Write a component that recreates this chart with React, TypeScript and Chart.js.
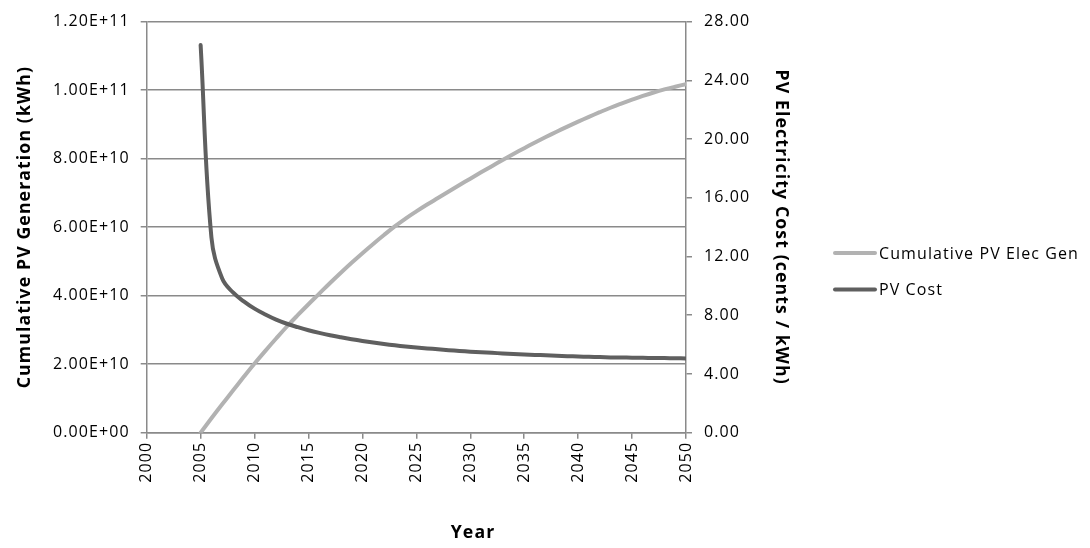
import React, { useEffect, useRef } from "react";
import { Chart, registerables } from "chart.js";

Chart.register(...registerables);

// ---- Data ----
const years = [
  2005, 2006, 2007, 2008, 2009, 2010, 2011, 2012, 2013, 2014,
  2015, 2016, 2017, 2018, 2019, 2020, 2021, 2022, 2023, 2024,
  2025, 2026, 2027, 2028, 2029, 2030, 2031, 2032, 2033, 2034,
  2035, 2036, 2037, 2038, 2039, 2040, 2041, 2042, 2043, 2044,
  2045, 2046, 2047, 2048, 2049, 2050,
];

// Cumulative PV electricity generation (kWh)
const cumulativeGen = [
  0, 4.2e9, 8.3e9, 1.23e10, 1.63e10, 2.02e10, 2.39e10, 2.75e10, 3.1e10, 3.43e10,
  3.75e10, 4.06e10, 4.37e10, 4.67e10, 4.96e10, 5.24e10, 5.51e10, 5.77e10, 6.02e10, 6.25e10,
  6.46e10, 6.66e10, 6.85e10, 7.04e10, 7.23e10, 7.415e10, 7.6e10, 7.78e10, 7.96e10, 8.135e10,
  8.305e10, 8.47e10, 8.63e10, 8.785e10, 8.935e10, 9.08e10, 9.22e10, 9.355e10, 9.485e10, 9.605e10,
  9.72e10, 9.83e10, 9.93e10, 1.002e11, 1.01e11, 1.0175e11,
];

// PV electricity cost (cents / kWh)
const pvCost = [
  26.4, 13.3, 10.5, 9.55, 8.95, 8.45, 8.05, 7.7, 7.42, 7.19,
  6.98, 6.8, 6.64, 6.5, 6.37, 6.25, 6.14, 6.04, 5.95, 5.87,
  5.8, 5.74, 5.68, 5.62, 5.57, 5.52, 5.48, 5.44, 5.4, 5.36,
  5.33, 5.3, 5.27, 5.24, 5.21, 5.19, 5.17, 5.15, 5.13, 5.12,
  5.11, 5.1, 5.09, 5.08, 5.07, 5.06,
];

const seriesLabels = ["Cumulative PV Elec Gen", "PV Cost"];
const leftTitle = "Cumulative PV Generation (kWh)";
const rightTitle = "PV Electricity Cost (cents / kWh)";
const xTitle = "Year";

// ---- Styles ----
const FONT = '"Open Sans", "Liberation Sans", sans-serif';
const GRID = "#8a8a8a";
const LIGHT = "#b2b2b2";
const DARK = "#5f5f5f";
const SPACING = "1.1px";

function fmtExp(v: number): string {
  const [m, e] = Number(v).toExponential(2).split("e");
  const sign = e[0] === "-" ? "-" : "+";
  const digits = e.replace(/^[+-]/, "").padStart(2, "0");
  return `${m}E${sign}${digits}`;
}

const spacingPlugin = {
  id: "letterSpacing",
  beforeUpdate(chart: any) {
    chart.ctx.letterSpacing = SPACING;
  },
  beforeDraw(chart: any) {
    chart.ctx.letterSpacing = SPACING;
  },
};

const legendPlugin = {
  id: "customLegend",
  afterDraw(chart: any) {
    const ctx = chart.ctx as CanvasRenderingContext2D;
    ctx.save();
    (ctx as any).letterSpacing = SPACING;
    ctx.textBaseline = "middle";
    ctx.textAlign = "left";
    ctx.fillStyle = "#000";
    ctx.font = `16px ${FONT}`;
    chart.data.datasets.forEach((ds: any, i: number) => {
      const y = 253 + i * 36.5;
      ctx.strokeStyle = ds.borderColor;
      ctx.lineWidth = 4;
      ctx.lineCap = "round";
      ctx.beginPath();
      ctx.moveTo(835, y);
      ctx.lineTo(875, y);
      ctx.stroke();
      ctx.fillText(ds.label, 879, y + 1);
    });
    ctx.font = `bold 17.7px ${FONT}`;
    ctx.textAlign = "center";
    ctx.fillText(xTitle, 473, 533);
    ctx.restore();
  },
};

export default function App() {
  const canvasRef = useRef<HTMLCanvasElement | null>(null);

  useEffect(() => {
    if (!canvasRef.current) return;
    const chart = new Chart(canvasRef.current, {
      type: "line",
      data: {
        datasets: [
          {
            label: seriesLabels[0],
            data: years.map((x, i) => ({ x, y: cumulativeGen[i] })),
            yAxisID: "yLeft",
            borderColor: LIGHT,
            backgroundColor: LIGHT,
            borderWidth: 4,
            pointRadius: 0,
            tension: 0.4,
            borderCapStyle: "round",
            borderJoinStyle: "round",
            fill: false,
            order: 2,
          },
          {
            label: seriesLabels[1],
            data: years.map((x, i) => ({ x, y: pvCost[i] })),
            yAxisID: "yRight",
            borderColor: DARK,
            backgroundColor: DARK,
            borderWidth: 4,
            pointRadius: 0,
            tension: 0.4,
            borderCapStyle: "round",
            borderJoinStyle: "round",
            fill: false,
            order: 1,
          },
        ],
      },
      options: {
        animation: false,
        responsive: false,
        devicePixelRatio: 1,
        layout: { padding: { left: 0, right: 294.8, top: 14.7, bottom: 0 } },
        font: { family: FONT, size: 16 },
        plugins: {
          legend: { display: false },
          tooltip: { enabled: false },
        },
        scales: {
          x: {
            type: "linear",
            min: 2000,
            max: 2050,
            ticks: {
              stepSize: 5,
              autoSkip: false,
              maxRotation: 90,
              minRotation: 90,
              padding: 3,
              color: "#000",
              font: { family: FONT, size: 16 },
              callback: (v: any) => String(v),
            },
            grid: { drawOnChartArea: false, drawTicks: true, tickLength: 6, color: GRID, lineWidth: 1.5 },
            border: { color: GRID, width: 1.5 },
            afterFit: (s: any) => {
              s.height = 115.3;
            },
          },
          yLeft: {
            type: "linear",
            position: "left",
            min: 0,
            max: 1.2e11,
            ticks: {
              stepSize: 2e10,
              padding: 11,
              color: "#000",
              font: { family: FONT, size: 16 },
              callback: (v: any) => fmtExp(v),
            },
            grid: { color: GRID, lineWidth: 1.5, tickLength: 6 },
            border: { color: GRID, width: 1.5 },
            title: {
              display: true,
              text: leftTitle,
              color: "#000",
              font: { family: FONT, size: 17.7, weight: "bold" },
              padding: { top: 14.5, bottom: 0 },
            },
            afterFit: (s: any) => {
              s.width = 146.7;
            },
          },
          yRight: {
            type: "linear",
            position: "right",
            min: 0,
            max: 28,
            ticks: {
              stepSize: 4,
              padding: 12,
              color: "#000",
              font: { family: FONT, size: 16 },
              callback: (v: any) => Number(v).toFixed(2),
            },
            grid: { drawOnChartArea: false, color: GRID, lineWidth: 1.5, tickLength: 6 },
            border: { color: GRID, width: 1.5 },
            title: {
              display: true,
              text: rightTitle,
              color: "#000",
              font: { family: FONT, size: 17.7, weight: "bold" },
              padding: { top: 4, bottom: 0 },
            },
            afterFit: (s: any) => {
              s.width = 109.2;
            },
          },
        },
      } as any,
      plugins: [spacingPlugin, legendPlugin],
    });
    return () => chart.destroy();
  }, []);

  return (
    <div style={{ position: "absolute", left: 0, top: 0, width: 1090, height: 548, background: "#fff" }}>
      <canvas ref={canvasRef} width={1090} height={548} style={{ display: "block", width: 1090, height: 548 }} />
    </div>
  );
}
